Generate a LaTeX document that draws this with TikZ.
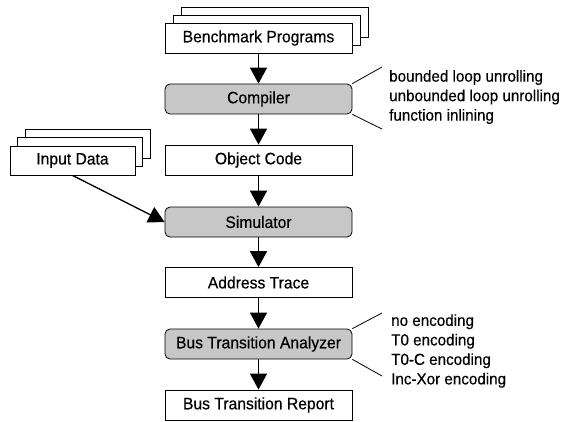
\documentclass[tikz,border=0pt]{standalone}
\usepackage{fontspec}
\setmainfont{Liberation Sans}
\newfontfamily\boxfont[FakeStretch=0.95,FakeBold=0.4]{Liberation Sans}
\newfontfamily\lblfont[FakeStretch=0.95,FakeBold=0.4]{Liberation Sans}
\usetikzlibrary{arrows.meta,shadows}
\begin{document}
\begin{tikzpicture}[x=1pt,y=-1pt,
  box/.style={draw=black, line width=0.8pt, fill=white, minimum width=187pt, minimum height=30pt,
              inner sep=0pt, font=\boxfont\fontsize{16.5}{18}\selectfont},
  gbox/.style={box, fill=black!22, rounded corners=5pt},
  stackbox/.style={box, double copy shadow={shadow xshift=8pt, shadow yshift=8pt, fill=white, draw=black, line width=0.8pt}},
  lbl/.style={anchor=west, align=left, inner sep=0pt, font=\lblfont\fontsize{16}{19.5}\selectfont},
  flow/.style={line width=1.3pt, -{Triangle[width=17pt,length=16pt]}},
  note/.style={line width=0.8pt}]
\useasboundingbox (0,0) rectangle (564,422);
\node[stackbox] (bench) at (258.5,38) {Benchmark Programs};
\node[gbox] (comp) at (258.5,99) {Compiler};
\node[box] (obj) at (258.5,160) {Object Code};
\node[box, minimum width=125pt, minimum height=29pt, double copy shadow={shadow xshift=7.5pt, shadow yshift=8.5pt, fill=white, draw=black, line width=0.8pt}] (indata) at (72.5,160.5) {Input Data};
\node[gbox] (sim) at (258.5,222) {Simulator};
\node[box] (addr) at (258.5,282.5) {Address Trace};
\node[gbox] (bta) at (258.5,344) {Bus Transition Analyzer};
\node[box] (rep) at (258.5,405) {Bus Transition Report};
\draw[flow] (bench) -- (comp);
\draw[flow] (comp) -- (obj);
\draw[flow] (obj) -- (sim);
\draw[flow] (indata.south) -- (sim.west);
\draw[flow] (sim) -- (addr);
\draw[flow] (addr) -- (bta);
\draw[flow] (bta) -- (rep);
\node[lbl] (clbl) at (389,97) {bounded loop unrolling\\unbounded loop unrolling\\function inlining};
\coordinate (c1) at (382,67);
\coordinate (c2) at (382,129);
\draw[note] (comp.north east) -- (c1);
\draw[note] (comp.south east) -- (c2);
\node[lbl] (blbl) at (391,351) {no encoding\\T0 encoding\\T0-C encoding\\Inc-Xor encoding};
\coordinate (b1) at (382,313);
\coordinate (b2) at (382,376);
\draw[note] (bta.north east) -- (b1);
\draw[note] (bta.south east) -- (b2);
\end{tikzpicture}
\end{document}
